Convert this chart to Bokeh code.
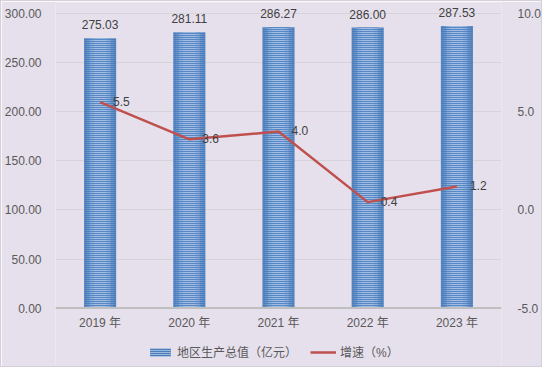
from bokeh.plotting import figure
from bokeh.models import (ColumnDataSource, Range1d, LinearAxis, FactorRange, Span,
                          Legend, LegendItem, FixedTicker, CustomJSTickFormatter, LabelSet)
from bokeh.core.properties import value
from bokeh.embed import file_html
from bokeh.resources import INLINE

years = ["2019 年", "2020 年", "2021 年", "2022 年", "2023 年"]
gdp = [275.03, 281.11, 286.27, 286.00, 287.53]
growth = [5.5, 3.6, 4.0, 0.4, 1.2]
gdp_labels = ["275.03", "281.11", "286.27", "286.00", "287.53"]
growth_labels = ["5.5", "3.6", "4.0", "0.4", "1.2"]
left_ticks = [0, 50, 100, 150, 200, 250, 300]
right_ticks = [-5, 0, 5, 10]

FONT = "'Liberation Sans', 'Noto Sans CJK SC', sans-serif"
TXT = "#595959"
BG = "#E6E0EC"
FS = "12px"

src = ColumnDataSource(dict(x=years, gdp=gdp, growth=growth, zero=[0] * len(years),
                            gl=gdp_labels, rl=growth_labels))

# frame extends below the value axis so that the legend can sit inside it
p = figure(width=542, height=367, x_range=FactorRange(*years, range_padding=0),
           y_range=Range1d(-59.6, 311.55), output_backend="svg", toolbar_location=None,
           min_border_left=53, min_border_right=41, min_border_top=1, min_border_bottom=2,
           styles={"border": "1px solid #D4D0D8"})
p.background_fill_color = BG
p.border_fill_color = BG
p.outline_line_color = None
p.extra_y_ranges = {"g": Range1d(-7.98, 10.578)}

p.ygrid.grid_line_color = "#D6D3DA"
p.ygrid.grid_line_width = 1
p.xgrid.grid_line_color = None
p.ygrid.ticker = FixedTicker(ticks=left_ticks)

base = p.vbar(x="x", top="gdp", width=0.36, source=src, fill_color="#4A7DBB", line_color=None)
p.vbar(x="x", top="gdp", width=0.24, source=src, fill_color="#5687C6", line_color=None)
hats = []
for w, a in [(0.36, 0.2), (0.30, 0.25), (0.22, 0.3), (0.14, 0.35)]:
    hats.append(p.vbar(x="x", top="gdp", width=w, source=src, fill_alpha=0, line_color=None,
                       hatch_pattern="horizontal_line", hatch_scale=2, hatch_weight=1,
                       hatch_color="white", hatch_alpha=a))

p.add_layout(Span(location=0, dimension="width", line_color="#BFBFBF", line_width=2))

line = p.line(x="x", y="growth", source=src, y_range_name="g",
              line_color="#C0504D", line_width=2.5)

p.add_layout(LabelSet(x="x", y="gdp", text="gl", source=src, text_align="center",
                      text_baseline="bottom", y_offset=9, text_font_size=FS,
                      text_color="#404040", text_font=value(FONT)))
p.add_layout(LabelSet(x="x", y="growth", text="rl", source=src, y_range_name="g",
                      text_align="left", text_baseline="middle", x_offset=13, y_offset=1,
                      text_font_size=FS, text_color="#404040", text_font=value(FONT)))
# category labels under the value axis line
p.add_layout(LabelSet(x="x", y="zero", text="x", source=src, text_align="center",
                      text_baseline="top", y_offset=-8, text_font_size=FS,
                      text_color=TXT, text_font=value(FONT)))

# left axis
ya = p.yaxis[0]
ya.ticker = FixedTicker(ticks=left_ticks)
ya.formatter = CustomJSTickFormatter(code="return tick.toFixed(2);")
ya.axis_line_color = None
ya.major_tick_line_color = None
ya.minor_tick_line_color = None
ya.major_label_text_font_size = FS
ya.major_label_text_color = TXT
ya.major_label_text_font = FONT
ya.major_label_standoff = 8

ra = LinearAxis(y_range_name="g", ticker=FixedTicker(ticks=right_ticks),
                formatter=CustomJSTickFormatter(code="return tick.toFixed(1);"))
ra.axis_line_color = None
ra.major_tick_line_color = None
ra.minor_tick_line_color = None
ra.major_label_text_font_size = FS
ra.major_label_text_color = TXT
ra.major_label_text_font = FONT
ra.major_label_standoff = 10
p.add_layout(ra, "right")

p.xaxis.visible = False

legend = Legend(items=[LegendItem(label="地区生产总值（亿元）", renderers=[base] + hats),
                       LegendItem(label="增速（%）", renderers=[line])],
                orientation="horizontal", location=(92, 6),
                background_fill_alpha=0, border_line_color=None,
                label_text_font_size=FS, label_text_color=TXT, label_text_font=FONT,
                glyph_width=26, glyph_height=10, spacing=13, margin=0, padding=2,
                label_standoff=4)
p.add_layout(legend)

open("out.html", "w").write(file_html(p, INLINE))
